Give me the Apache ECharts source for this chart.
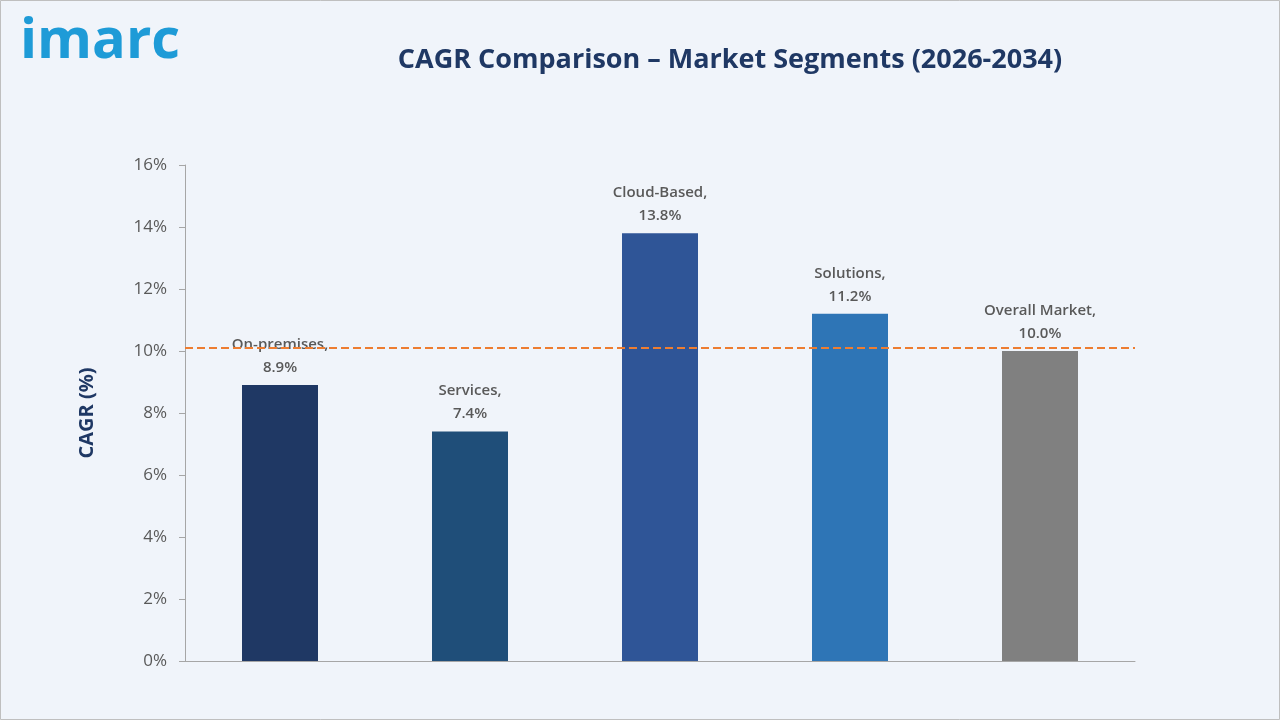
<!DOCTYPE html>
<html><head><meta charset="utf-8">
<script src="https://cdn.jsdelivr.net/npm/echarts@6/dist/echarts.min.js"></script>
<style>html,body{margin:0;padding:0;}#c{width:1280px;height:720px;}</style>
</head><body><div id="c"></div>
<script>
const categories = ['On-premises', 'Services', 'Cloud-Based', 'Solutions', 'Overall Market'];
const cagrValues = [8.9, 7.4, 13.8, 11.2, 10.0];
const barColors = ['#1F3864', '#1F4E79', '#2F5597', '#2E75B6', '#808080'];
const referenceLine = 10.1;

const chart = echarts.init(document.getElementById('c'));
chart.setOption({
    backgroundColor: '#F0F4FA',
    textStyle: {fontFamily: 'Open Sans'},
    graphic: [
        {type: 'rect', shape: {x: 0.5, y: 0.5, width: 1279, height: 719}, style: {fill: 'none', stroke: '#BFBFBF', lineWidth: 1}},
        {type: 'text', left: 20, top: 14, style: {text: 'imarc', fill: '#1E9BD7', font: 'bold 56px "Open Sans"'}}
    ],
    title: {
        text: 'CAGR Comparison – Market Segments (2026-2034)',
        left: 725, top: 42, textAlign: 'center',
        textStyle: {color: '#1F3864', fontSize: 27, fontWeight: 'bold', fontFamily: 'Open Sans'}
    },
    grid: {left: 185, top: 165, width: 950, height: 496},
    xAxis: {
        type: 'category', data: categories,
        axisLine: {lineStyle: {color: '#A6A6A6'}},
        axisTick: {show: false}, axisLabel: {show: false}
    },
    yAxis: {
        type: 'value', min: 0, max: 16, interval: 2,
        name: 'CAGR (%)', nameLocation: 'middle', nameGap: 88, nameRotate: 90,
        nameTextStyle: {color: '#1F3864', fontSize: 20, fontWeight: 'bold'},
        axisLine: {show: true, lineStyle: {color: '#A6A6A6'}},
        axisTick: {show: true, length: 6, lineStyle: {color: '#A6A6A6'}},
        axisLabel: {formatter: '{value}%', color: '#595959', fontSize: 17, margin: 18},
        splitLine: {show: false}
    },
    series: [{
        type: 'bar', barWidth: 76,
        data: cagrValues.map((v, i) => ({value: v, itemStyle: {color: barColors[i]}})),
        label: {
            show: true, position: 'top', color: '#595959', fontSize: 15, fontWeight: 600, lineHeight: 23, distance: 6,
            formatter: p => categories[p.dataIndex] + ',\n' + p.value.toFixed(1) + '%'
        },
        markLine: {
            silent: true, symbol: 'none', label: {show: false},
            lineStyle: {color: '#ED7D31', type: 'dashed', width: 2},
            data: [{yAxis: referenceLine}]
        }
    }]
});
</script></body></html>
